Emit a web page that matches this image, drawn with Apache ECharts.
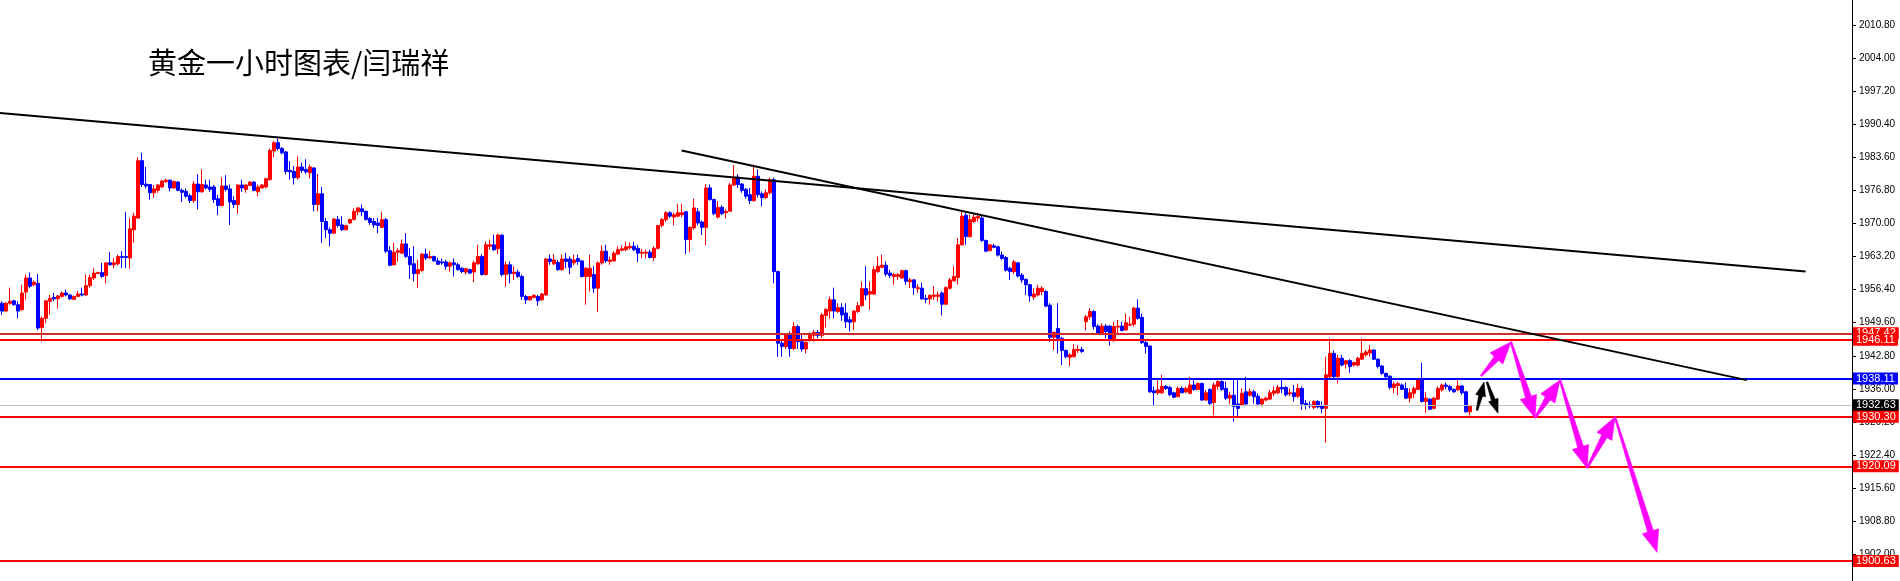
<!DOCTYPE html>
<html>
<head>
<meta charset="utf-8">
<script src="https://cdn.jsdelivr.net/npm/echarts@6.0.0/dist/echarts.min.js"></script>
<style>
html,body{margin:0;padding:0;background:#fff;}
#chart{width:1900px;height:581px;}
</style>
</head>
<body>
<div id="chart"></div>
<script>
// ---- data ----
const titleText = '黄金一小时图表/闫瑞祥';
// [open, close, low, high] per hourly bar
const candles = [
[1953.6,1952.0,1951.2,1954.0],[1952.0,1953.6,1951.9,1953.8],[1953.6,1954.0,1953.3,1956.8],[1954.1,1953.3,1953.1,1954.3],
[1953.3,1952.0,1950.5,1954.0],[1952.3,1955.7,1952.0,1957.4],[1955.9,1958.8,1954.3,1959.5],[1958.8,1957.1,1956.7,1959.9],
[1957.4,1957.9,1957.1,1958.3],[1957.7,1948.5,1948.1,1959.6],[1948.6,1950.5,1945.7,1950.9],[1950.5,1954.1,1949.5,1954.3],
[1954.0,1954.6,1951.2,1955.3],[1954.8,1954.5,1954.0,1955.7],[1954.5,1955.1,1952.5,1955.3],[1955.0,1955.7,1954.8,1956.0],
[1955.7,1955.3,1955.0,1956.4],[1955.3,1954.5,1954.3,1955.5],[1954.4,1955.0,1954.2,1955.2],[1955.0,1955.5,1955.0,1956.1],
[1955.5,1955.3,1955.0,1956.8],[1955.3,1957.2,1955.1,1959.5],[1957.2,1958.9,1956.8,1959.5],[1958.8,1959.8,1958.4,1960.8],
[1959.7,1959.9,1959.6,1960.1],[1959.9,1959.1,1958.8,1961.9],[1959.3,1961.9,1957.7,1961.9],[1961.9,1961.5,1961.4,1964.1],
[1961.5,1961.9,1960.8,1962.9],[1961.7,1963.2,1961.4,1963.6],[1963.2,1963.0,1960.8,1964.3],[1963.2,1963.0,1960.8,1972.4],
[1962.9,1968.9,1960.7,1971.1],[1968.7,1971.5,1966.0,1972.2],[1971.1,1982.9,1971.0,1983.6],[1982.9,1978.0,1977.5,1984.5],
[1978.1,1977.7,1977.2,1981.6],[1978.0,1976.3,1974.9,1978.1],[1976.3,1977.1,1975.3,1977.9],[1976.8,1977.9,1976.3,1978.1],
[1977.5,1978.7,1977.3,1979.0],[1978.6,1978.9,1978.3,1979.2],[1978.9,1977.3,1976.6,1979.0],[1977.3,1978.6,1977.1,1978.8],
[1978.5,1976.8,1976.6,1978.7],[1976.8,1976.4,1974.4,1977.2],[1976.6,1975.6,1975.3,1977.2],[1975.7,1974.7,1974.2,1976.1],
[1974.7,1978.1,1974.2,1978.7],[1978.1,1976.5,1972.9,1980.1],[1976.5,1978.0,1976.3,1981.1],[1977.9,1977.3,1977.0,1979.0],
[1977.5,1977.0,1976.5,1979.0],[1977.5,1974.9,1974.2,1977.9],[1975.1,1973.7,1971.7,1975.9],[1973.7,1977.7,1973.5,1979.5],
[1977.7,1977.0,1976.6,1979.9],[1977.1,1974.4,1969.7,1978.0],[1974.7,1973.9,1973.2,1975.6],[1973.9,1977.9,1972.0,1978.0],
[1977.9,1977.3,1976.5,1979.0],[1977.0,1977.9,1976.3,1978.0],[1977.8,1978.5,1977.7,1978.7],[1978.5,1976.8,1976.6,1978.7],
[1976.5,1977.5,1975.6,1978.0],[1977.3,1977.9,1977.2,1978.1],[1977.5,1979.2,1977.2,1979.4],[1979.0,1985.0,1978.8,1985.4],
[1984.9,1986.6,1983.6,1986.9],[1986.6,1985.4,1985.0,1987.4],[1985.4,1984.5,1984.2,1985.7],[1984.7,1980.7,1980.1,1984.9],
[1980.9,1980.6,1979.0,1982.8],[1980.7,1979.4,1978.0,1981.8],[1979.4,1981.6,1979.0,1983.8],[1981.6,1980.9,1980.4,1982.5],
[1981.1,1980.6,1980.2,1983.2],[1980.4,1981.6,1979.2,1982.1],[1981.4,1973.9,1972.5,1981.6],[1973.9,1976.1,1972.5,1980.2],
[1976.1,1970.4,1966.0,1977.5],[1970.4,1968.7,1967.0,1971.1],[1968.7,1968.0,1965.3,1969.2],[1968.0,1970.9,1967.8,1971.1],
[1970.8,1969.6,1969.2,1971.5],[1969.7,1968.7,1968.5,1971.5],[1968.7,1969.6,1968.6,1969.7],[1970.1,1970.8,1969.9,1971.0],
[1970.8,1972.5,1970.6,1973.1],[1972.4,1973.2,1971.7,1973.3],[1973.0,1972.4,1971.5,1973.9],[1972.5,1970.8,1970.6,1972.6],
[1971.0,1970.2,1969.7,1971.3],[1970.4,1969.7,1969.1,1971.1],[1970.1,1969.6,1968.0,1971.1],[1969.2,1970.8,1969.1,1972.4],
[1970.8,1964.3,1963.9,1971.1],[1964.4,1961.4,1961.2,1965.3],[1961.5,1964.1,1961.4,1966.0],[1964.1,1964.4,1962.2,1964.9],
[1963.9,1965.8,1963.7,1966.7],[1965.8,1963.2,1962.9,1968.0],[1963.2,1961.5,1958.6,1964.9],[1961.7,1959.7,1958.1,1965.3],
[1959.7,1960.5,1956.8,1962.5],[1960.3,1963.7,1960.1,1963.9],[1963.7,1962.9,1962.5,1964.8],[1962.9,1963.2,1962.8,1964.3],
[1963.2,1962.3,1962.2,1963.4],[1962.3,1961.6,1961.5,1962.9],[1962.1,1961.9,1961.5,1962.8],[1962.1,1961.2,1960.5,1962.5],
[1961.2,1961.9,1960.1,1962.2],[1961.9,1961.5,1959.1,1962.8],[1961.5,1960.5,1960.3,1961.9],[1960.8,1960.1,1959.8,1961.0],
[1960.0,1960.7,1959.5,1960.8],[1960.5,1959.8,1959.6,1960.7],[1960.0,1961.9,1957.9,1962.3],[1961.7,1963.2,1961.5,1965.6],
[1963.2,1959.5,1959.3,1963.7],[1959.5,1965.6,1959.3,1966.3],[1965.3,1965.6,1964.6,1966.7],[1965.6,1964.6,1964.4,1967.7],
[1964.8,1967.6,1963.7,1967.9],
[1967.6,1959.5,1959.1,1967.7],[1959.5,1961.5,1957.0,1962.2],[1961.5,1959.7,1957.7,1962.2],[1959.7,1960.0,1958.4,1961.2],
[1960.0,1959.1,1958.8,1960.5],[1959.1,1955.0,1954.3,1959.5],[1955.0,1954.3,1953.4,1955.3],[1954.3,1955.0,1954.1,1955.1],
[1954.8,1955.2,1954.6,1955.5],[1955.0,1954.1,1953.1,1955.3],[1954.3,1955.5,1954.1,1955.7],[1955.3,1962.7,1955.2,1962.9],
[1962.7,1962.2,1961.5,1963.6],[1961.7,1962.5,1961.4,1963.7],[1962.0,1960.5,1960.3,1962.5],[1960.5,1962.7,1960.3,1963.6],
[1962.7,1962.2,1960.8,1963.9],[1962.7,1961.0,1959.6,1963.2],[1961.9,1962.5,1961.4,1963.6],[1962.8,1962.2,1961.5,1963.6],
[1962.3,1959.1,1958.9,1962.5],[1959.1,1960.8,1953.3,1961.0],[1959.1,1960.8,1956.0,1963.6],[1959.5,1956.7,1955.7,1961.2],
[1956.7,1961.9,1951.8,1962.2],[1961.9,1964.3,1961.5,1965.5],[1964.3,1962.3,1961.9,1965.6],[1962.2,1962.5,1961.5,1963.2],
[1962.3,1963.9,1962.2,1964.3],[1963.7,1964.6,1963.6,1965.3],[1964.5,1964.8,1964.3,1965.5],[1964.6,1965.2,1964.3,1966.3],
[1965.0,1965.3,1964.6,1966.0],[1965.3,1964.6,1964.3,1966.2],[1964.9,1963.9,1962.1,1965.6],[1963.9,1964.1,1962.9,1964.8],
[1963.9,1964.1,1962.8,1964.6],[1964.1,1963.0,1962.8,1964.6],[1963.0,1964.9,1962.3,1965.3],[1964.9,1969.6,1964.6,1969.7],
[1969.6,1970.8,1969.2,1971.1],[1970.8,1972.2,1970.3,1972.5],[1972.2,1971.5,1971.1,1972.5],[1971.3,1971.8,1969.6,1972.2],
[1971.5,1972.2,1971.3,1974.0],[1971.8,1972.2,1971.3,1974.0],[1972.4,1966.7,1963.7,1972.5],[1966.7,1969.2,1964.1,1969.4],
[1969.1,1973.2,1968.7,1975.1],[1972.4,1970.1,1969.6,1973.2],[1970.3,1969.2,1967.6,1970.6],[1969.2,1977.3,1965.5,1978.1],
[1977.3,1974.9,1974.7,1978.0],[1974.9,1972.0,1971.7,1975.1],[1971.3,1973.3,1971.0,1974.6],[1973.3,1972.0,1971.7,1973.7],
[1972.2,1972.5,1971.0,1972.9],[1972.5,1977.9,1972.4,1978.3],[1977.9,1979.5,1977.7,1982.0],[1979.5,1978.0,1977.3,1980.1],
[1978.1,1976.8,1976.3,1978.3],[1977.0,1975.6,1975.1,1977.3],[1975.9,1974.7,1974.0,1977.3],[1974.7,1979.7,1974.4,1982.1],
[1979.7,1975.9,1975.3,1981.1],[1976.1,1975.3,1973.5,1976.6],[1975.3,1976.3,1975.1,1977.0],[1976.3,1979.0,1975.9,1979.4],
[1979.0,1960.1,1957.7,1979.4],[1960.1,1945.4,1942.6,1960.3],[1945.4,1944.7,1942.6,1946.1],[1944.7,1947.1,1944.2,1947.4],
[1947.1,1944.3,1942.6,1947.8],[1944.3,1948.8,1944.0,1949.7],[1948.8,1945.7,1944.2,1949.2],[1945.7,1944.2,1943.7,1947.1],
[1944.2,1945.6,1943.3,1945.7],[1946.3,1947.1,1945.7,1947.6],[1947.0,1947.6,1945.7,1948.1],[1947.6,1947.0,1946.4,1948.1],
[1947.0,1951.2,1946.5,1951.6],[1951.1,1952.3,1948.6,1952.6],[1952.0,1954.3,1950.4,1955.0],[1954.3,1952.0,1950.5,1956.8],
[1951.9,1952.7,1951.6,1953.6],[1952.7,1951.2,1950.0,1953.6],[1951.6,1949.8,1948.5,1953.6],[1950.2,1949.7,1947.8,1950.9],
[1949.8,1952.0,1948.1,1952.2],[1951.9,1953.1,1951.6,1953.8],[1953.1,1956.6,1952.9,1958.1],[1956.6,1955.3,1954.3,1961.2],
[1955.5,1956.0,1952.3,1958.1],[1955.5,1960.5,1955.3,1961.2],[1960.1,1961.2,1959.8,1963.2],[1961.0,1961.4,1960.8,1963.6],
[1961.4,1959.6,1959.1,1962.2],[1959.8,1959.3,1958.8,1960.5],[1959.1,1959.5,1957.4,1959.8],[1959.1,1959.5,1958.4,1959.8],
[1958.8,1960.3,1958.6,1960.5],[1960.3,1958.1,1957.4,1960.5],[1958.0,1958.4,1956.7,1958.8],[1958.4,1956.8,1955.3,1958.6],
[1956.6,1956.8,1955.7,1957.5],[1956.7,1954.5,1954.3,1957.8],[1954.6,1954.4,1953.6,1955.3],[1954.5,1955.2,1953.3,1955.5],
[1955.0,1955.3,1954.3,1957.1],[1955.0,1955.3,1954.0,1956.0],[1955.7,1953.4,1951.1,1956.0],[1953.4,1956.8,1953.3,1957.1],
[1956.7,1958.4,1956.4,1958.8],[1958.2,1959.1,1958.1,1961.2],[1958.9,1965.6,1957.4,1967.0],[1965.6,1971.5,1965.5,1972.5],
[1971.7,1967.3,1965.6,1972.2],[1967.3,1970.8,1967.1,1971.8],[1970.4,1971.3,1970.1,1972.0],[1971.1,1971.4,1970.4,1972.2],
[1971.1,1966.5,1966.2,1971.5],[1966.5,1964.3,1964.1,1966.7],[1964.4,1965.6,1964.3,1965.8],
[1965.4,1965.1,1964.9,1965.8],[1965.2,1963.5,1963.2,1965.4],[1963.5,1962.8,1962.5,1964.2],[1963.0,1960.4,1960.1,1963.3],
[1960.8,1960.1,1958.4,1961.1],[1960.1,1962.1,1959.6,1962.5],[1961.9,1959.2,1958.9,1962.1],[1959.4,1958.4,1957.8,1959.8],
[1958.5,1957.4,1955.3,1958.7],[1957.4,1955.1,1953.9,1957.6],[1954.9,1955.5,1954.3,1956.7],[1955.3,1956.7,1955.0,1957.4],
[1956.0,1956.7,1955.3,1957.1],[1956.0,1953.0,1952.8,1956.3],[1953.2,1946.6,1945.7,1953.6],[1946.6,1947.6,1944.0,1947.8],
[1948.4,1946.4,1943.3,1953.6],[1946.4,1943.9,1940.9,1946.7],[1943.9,1942.6,1942.3,1944.1],[1942.5,1943.0,1940.7,1943.3],
[1942.6,1944.1,1942.5,1945.2],[1943.9,1944.1,1943.4,1945.0],[1944.1,1943.7,1943.4,1944.7],[1949.8,1950.8,1948.0,1951.2],
[1950.8,1951.9,1950.2,1952.6],[1951.9,1948.8,1948.2,1952.2],[1948.9,1947.4,1947.1,1949.3],[1947.4,1948.9,1947.1,1949.5],
[1948.9,1947.8,1946.4,1949.3],[1948.9,1946.2,1944.9,1949.1],[1946.1,1948.8,1945.7,1949.8],[1948.7,1948.9,1947.4,1950.2],
[1948.9,1948.0,1947.8,1949.8],[1948.1,1949.6,1948.0,1951.5],[1949.1,1949.3,1948.9,1950.8],[1949.3,1952.6,1948.8,1952.9],
[1952.6,1950.5,1950.2,1954.4],[1950.7,1945.5,1945.2,1951.5],[1945.5,1944.7,1943.3,1946.1],[1944.8,1935.4,1935.2,1945.0],
[1935.6,1935.2,1932.5,1936.5],[1935.2,1935.8,1934.8,1937.8],[1935.2,1936.5,1934.9,1938.9],[1936.5,1936.1,1935.8,1936.8],
[1936.3,1934.8,1934.5,1936.6],[1935.2,1934.3,1934.1,1935.4],[1934.4,1936.1,1934.3,1936.5],[1936.1,1935.2,1935.1,1936.5],
[1935.4,1936.1,1935.1,1936.5],[1935.1,1936.8,1934.9,1938.5],[1936.8,1935.9,1935.6,1937.8],[1935.9,1937.1,1935.8,1937.3],
[1937.1,1933.7,1933.6,1937.3],[1933.7,1935.2,1933.6,1935.8],[1935.9,1933.0,1932.7,1936.1],[1933.2,1936.8,1930.6,1937.3],
[1936.5,1937.5,1935.8,1937.8],[1937.5,1935.9,1935.6,1937.8],[1936.1,1934.1,1933.7,1937.5],[1934.1,1934.7,1932.9,1935.4],
[1934.7,1932.4,1929.3,1937.8],[1932.9,1932.0,1930.3,1937.8],[1932.7,1935.1,1932.5,1936.1],[1935.4,1932.9,1932.7,1938.5],
[1934.7,1935.4,1934.4,1936.1],[1935.4,1934.4,1933.0,1935.8],[1934.5,1932.9,1932.7,1935.1],[1932.9,1933.9,1932.4,1934.1],
[1933.7,1934.1,1933.4,1934.4],[1933.9,1935.2,1933.7,1935.8],[1935.1,1935.6,1934.5,1936.5],[1935.2,1936.3,1934.9,1936.8],
[1936.3,1936.0,1935.1,1937.8],[1936.3,1934.8,1934.4,1936.6],[1935.0,1935.2,1934.5,1936.1],[1935.2,1934.4,1933.4,1936.8],
[1934.5,1936.1,1934.1,1937.1],[1936.1,1932.9,1931.7,1936.5],[1933.0,1932.7,1931.8,1933.7],[1932.7,1932.5,1932.0,1933.4],
[1932.2,1933.4,1931.8,1933.7],[1933.4,1932.3,1932.0,1933.7],[1932.5,1932.0,1931.0,1933.4],[1932.0,1938.9,1924.9,1942.6],
[1938.5,1943.3,1938.2,1946.4],[1943.3,1938.5,1938.2,1943.9],[1938.5,1942.3,1937.1,1943.0],[1942.3,1940.9,1940.6,1943.0],
[1941.1,1941.8,1940.2,1941.9],[1941.8,1940.6,1939.3,1942.1],[1940.9,1941.4,1940.6,1941.6],[1940.9,1942.3,1940.6,1942.6],
[1942.1,1943.3,1941.9,1946.4],[1943.0,1943.6,1942.6,1944.0],[1943.4,1944.0,1942.6,1945.0],[1944.0,1942.1,1941.9,1944.1],
[1942.1,1940.6,1940.2,1942.3],[1940.7,1939.2,1938.9,1940.9],[1939.2,1938.5,1938.2,1939.3],[1938.6,1936.3,1935.9,1938.8],
[1936.3,1937.0,1935.1,1937.5],[1936.7,1937.1,1934.7,1937.5],[1936.8,1935.9,1935.8,1937.1],[1936.1,1934.1,1933.9,1937.3],
[1934.1,1935.2,1933.2,1936.1],[1935.1,1936.1,1934.1,1936.5],[1935.9,1937.9,1935.8,1938.2],[1937.9,1933.4,1933.2,1941.4],
[1933.4,1934.1,1931.1,1935.4],[1933.9,1931.8,1931.7,1934.1],[1932.0,1934.1,1931.8,1934.4],[1933.9,1936.1,1933.7,1936.5],
[1935.8,1936.8,1935.4,1937.1],[1936.8,1936.5,1935.9,1937.3],[1936.5,1935.8,1935.4,1936.8],[1935.9,1935.4,1935.2,1936.1],
[1935.8,1936.6,1935.6,1937.8],[1936.6,1935.2,1934.8,1936.8],[1935.4,1931.3,1931.1,1935.6],[1931.3,1932.6,1930.6,1932.7]
];
const totalSlots = 463;            // bars + empty space to the right
const tickValues = [1902.00,1908.80,1915.60,1922.40,1929.20,1936.00,1942.80,1949.60,1956.40,1963.20,1970.00,1976.80,1983.60,1990.40,1997.20,2004.00,2010.80];
const yMin = 1896.52, yMax = 2015.92;
const levelValues = [1947.42, 1946.11, 1938.11, 1932.63, 1930.30, 1920.09, 1900.63];
const levelColors = ['#d42a2a', '#ff0000', '#0000ff', '#c0c0c0', '#ff0000', '#ff0000', '#ff0000'];
const levelTagColors = ['#ff0000', '#ff0000', '#0000ff', '#000000', '#ff0000', '#ff0000', '#ff0000'];
const levelWidths = [2, 2, 2, 1, 2, 2, 2];
// trend lines: [barIndex, price]
const trendLine1 = [[-0.5, 1992.7], [450.9, 1960.1]];
const trendLine2 = [[169.9, 1985.0], [436.2, 1937.8]];
// arrows: [fromIndex, fromPrice, toIndex, toPrice]
const magentaArrows = [
  [369.75, 1938.65, 377.25, 1945.64],
  [377.25, 1945.64, 383.25, 1930.02],
  [383.25, 1930.02, 389.5, 1937.83],
  [389.5, 1937.83, 396.25, 1919.74],
  [396.25, 1919.74, 403.25, 1930.22],
  [403.25, 1930.22, 413.75, 1902.41]
];
const blackArrows = [
  [368.75, 1931.6, 370.5, 1937.4],
  [371.25, 1937.4, 374.0, 1931.0]
];

// ---- chart ----
const cats = [];
for (let i = 0; i < totalSlots; i++) cats.push(String(i));
const xRight = totalSlots - 0.5;

function arrowSeries(data, color, W, H, S) {
  return {
    type: 'custom', xAxisIndex: 1, yAxisIndex: 0, z: 10, silent: true,
    data: data,
    renderItem: function (params, api) {
      const p0 = api.coord([api.value(0), api.value(1)]);
      const p1 = api.coord([api.value(2), api.value(3)]);
      const dx = p1[0] - p0[0], dy = p1[1] - p0[1];
      const L = Math.hypot(dx, dy);
      const ux = dx / L, uy = dy / L, nx = -uy, ny = ux;
      const h = Math.min(H, L * 0.6);
      const ax = p1[0] - ux * h, ay = p1[1] - uy * h;
      const pts = [
        [p0[0] + nx * 0.8, p0[1] + ny * 0.8],
        [ax + nx * S / 2, ay + ny * S / 2],
        [ax + nx * W / 2, ay + ny * W / 2],
        [p1[0], p1[1]],
        [ax - nx * W / 2, ay - ny * W / 2],
        [ax - nx * S / 2, ay - ny * S / 2],
        [p0[0] - nx * 0.8, p0[1] - ny * 0.8]
      ];
      return { type: 'polygon', shape: { points: pts }, style: { fill: color, stroke: color, lineWidth: 0.6 } };
    }
  };
}

const markData = levelValues.map(function (v, i) {
  return {
    yAxis: v,
    lineStyle: { color: levelColors[i], width: levelWidths[i], type: 'solid' },
    label: {
      show: true, position: 'end', distance: 1,
      formatter: v.toFixed(2),
      color: '#ffffff', backgroundColor: levelTagColors[i],
      fontFamily: 'Liberation Sans', fontSize: 11,
      padding: [1, 3, 0, 3]
    }
  };
});

const chart = echarts.init(document.getElementById('chart'), null, { renderer: 'canvas' });
chart.setOption({
  animation: false,
  backgroundColor: '#ffffff',
  title: {
    text: titleText, left: 143, top: 43,
    textStyle: { fontFamily: 'Noto Sans CJK SC', fontSize: 29, fontWeight: 'normal', color: '#000' }
  },
  grid: { left: 0, right: 48, top: 0, bottom: 0 },
  xAxis: [
    { type: 'category', data: cats, show: false, boundaryGap: true },
    { type: 'value', min: -0.5, max: xRight, show: false }
  ],
  yAxis: {
    type: 'value', position: 'right', min: yMin, max: yMax,
    axisLine: { show: true, onZero: false, lineStyle: { color: '#000', width: 1 } },
    axisTick: { show: true, customValues: tickValues, length: 4, inside: false, lineStyle: { color: '#000', width: 1 } },
    axisLabel: {
      show: true, customValues: tickValues, margin: 7,
      formatter: function (v) { return v.toFixed(2); },
      color: '#000', fontFamily: 'Liberation Sans', fontSize: 10
    },
    splitLine: { show: false },
    splitArea: { show: false },
    minorTick: { show: false },
    minorSplitLine: { show: false }
  },
  series: [
    {
      type: 'candlestick', data: candles, barWidth: 3,
      itemStyle: { color: '#ff0000', color0: '#0000ff', borderColor: '#ff0000', borderColor0: '#0000ff', borderWidth: 1 },
      markLine: { symbol: ['none', 'none'], silent: true, animation: false, data: markData }
    },
    { type: 'line', xAxisIndex: 1, data: trendLine1, symbol: 'none', silent: true, z: 5, lineStyle: { color: '#000', width: 2 } },
    { type: 'line', xAxisIndex: 1, data: trendLine2, symbol: 'none', silent: true, z: 5, lineStyle: { color: '#000', width: 2 } },
    arrowSeries(magentaArrows, '#ff00ff', 17, 22, 6),
    arrowSeries(blackArrows, '#000000', 10, 14, 4)
  ]
});
</script>
</body>
</html>
